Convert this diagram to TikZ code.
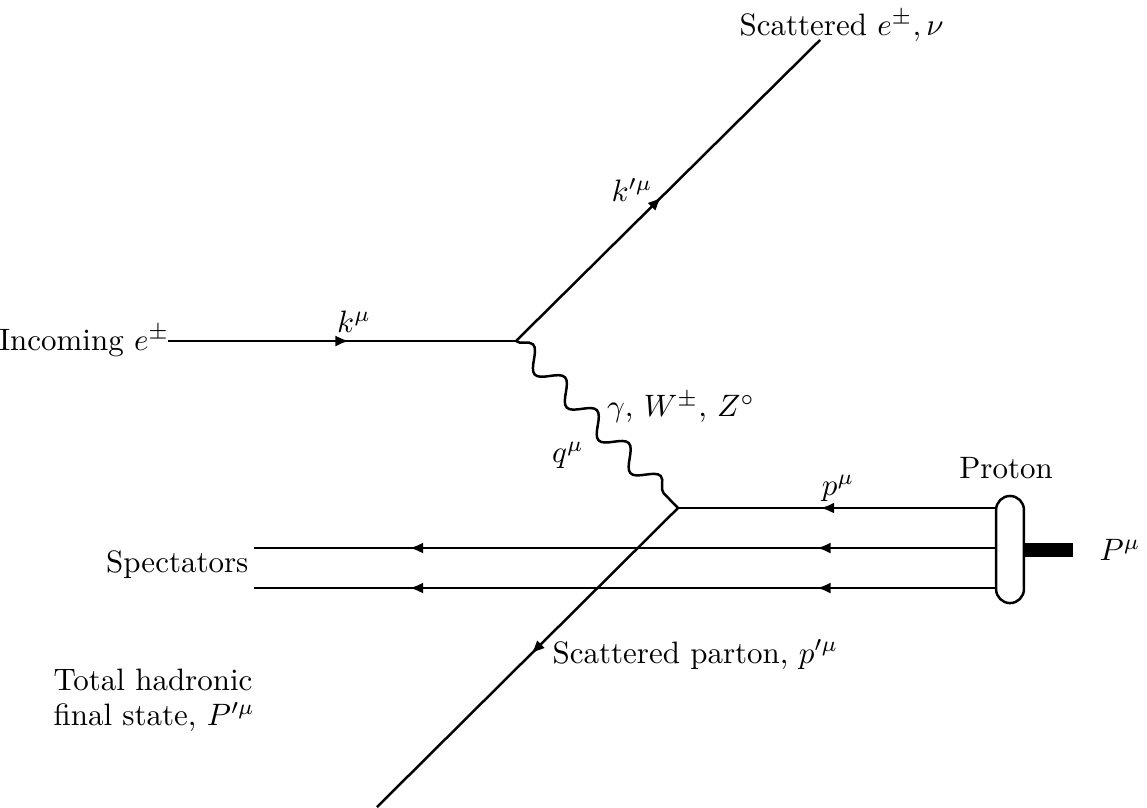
\documentclass[tikz,border=0pt]{standalone}
\usepackage{amsmath,amssymb}
\usetikzlibrary{arrows.meta, positioning, calc, decorations.pathmorphing, decorations.markings}

\begin{document}
\begin{tikzpicture}[x=0.323pt, y=-0.323pt,
        fermion/.style={draw, thick, postaction={decorate}, decoration={markings, mark=at position #1 with {\arrow{Latex[length=4.4pt, width=3.6pt]}}}},
        spectator/.style={draw, thick, postaction={decorate}, decoration={markings, mark=at position 0.24 with {\arrow{Latex[length=4.4pt, width=3.6pt]}}, mark=at position 0.79 with {\arrow{Latex[length=4.4pt, width=3.6pt]}}}},
        boson/.style={draw, thick, decorate, decoration={snake, segment length=14.8pt, amplitude=3.2pt}},
        label/.style={inner sep=0pt}]

        \useasboundingbox (0,0) rectangle (1147,807);

        % Vertices and free line ends
        \coordinate (vlep) at (516,341);
        \coordinate (vhad) at (678,508);
        \coordinate (kin) at (168,341);
        \coordinate (kout) at (820,40);
        \coordinate (pout) at (377,807);
        \coordinate (spec1) at (254,548);
        \coordinate (spec2) at (254,588);

        % Proton blob
        \fill (1021,543) rectangle (1073,557);
        \node [draw, thick, fill=white, rounded corners=4.5pt, minimum width=9pt, minimum height=34.6pt, inner sep=0pt] (proton) at (1010,549.5) {};

        % Lines
        \path [fermion=0.52] (kin) -- (vlep);
        \path [fermion=0.48] (vlep) -- (kout);
        \path [boson] (vlep) -- (vhad);
        \path [fermion=0.55] (proton.west |- vhad) -- (vhad);
        \path [fermion=0.49] (vhad) -- (pout);
        \path [spectator] (proton.west |- spec1) -- (spec1);
        \path [spectator] (proton.west |- spec2) -- (spec2);

        % Labels
        \node [label, anchor=base east] (inlbl) at (170,350) {Incoming $e^\pm$};
        \node [label, anchor=base west] (outlbl) at (739,35) {Scattered $e^\pm, \nu$};
        \node [label] (klbl) at (354,322) {$k^\mu$};
        \node [label] (kplbl) at (632,190) {$k'^\mu$};
        \node [label] (qlbl) at (568,455) {$q^\mu$};
        \node [label] (bosonlbl) at (681,407) {$\gamma$, $W^\pm$, $Z^\circ$};
        \node [label] (plbl) at (838,488) {$p^\mu$};
        \node [label] (protonlbl) at (1006,468) {Proton};
        \node [label] (Plbl) at (1120,550) {$P^\mu$};
        \node [label, anchor=base east] (speclbl) at (249,572) {Spectators};
        \node [label, anchor=base west] (partonlbl) at (552,663) {Scattered parton, $p'^\mu$};
        \node [label, anchor=north west, align=left] (hadlbl) at (53,668) {Total hadronic\\[-0.5pt]final state, $P'^\mu$};
    \end{tikzpicture}
\end{document}
